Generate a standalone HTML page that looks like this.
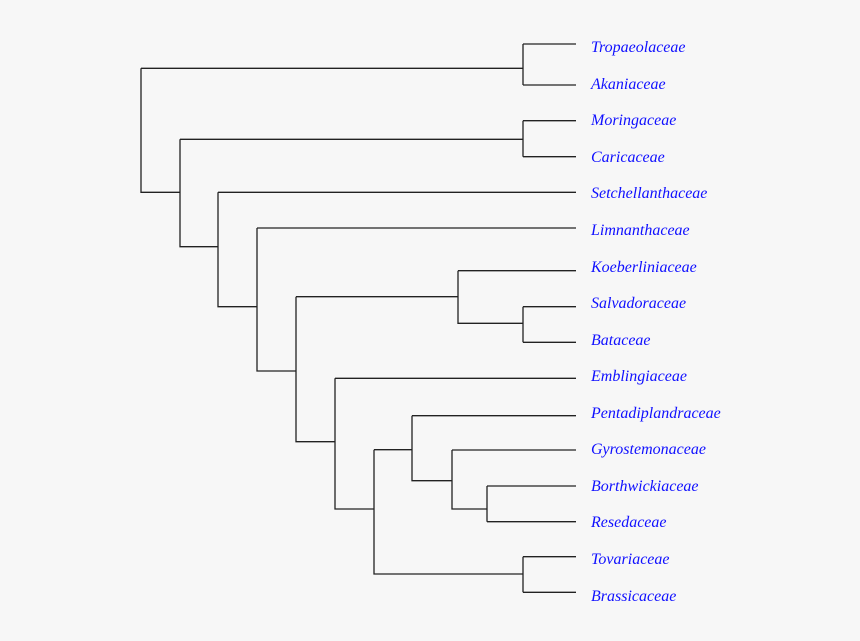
<!DOCTYPE html>
<html><head><style>
html,body{margin:0;padding:0;background:#f7f7f7;}
svg{display:block}
text{font-family:"Liberation Serif",serif;font-style:italic;font-size:16px;fill:#1010ff;}
</style></head><body>
<svg width="860" height="641" viewBox="0 0 860 641" xmlns="http://www.w3.org/2000/svg">
<rect width="860" height="641" fill="#f7f7f7"/>
<g stroke="#222" stroke-width="1.3" fill="none">
<path d="M141 68.3V192.3H180"/>
<path d="M141 68.3H523"/>
<path d="M523 44V85M523 44H576M523 85H576"/>
<path d="M180 139.3V246.7H218"/>
<path d="M180 139.3H523"/>
<path d="M523 120.7V156.7M523 120.7H576M523 156.7H576"/>
<path d="M218 192.3V306.7H257"/>
<path d="M218 192.3H576"/>
<path d="M257 228V371H296"/>
<path d="M257 228H576"/>
<path d="M296 296.7V441.7H335"/>
<path d="M296 296.7H458"/>
<path d="M458 270.7V323.3H523"/>
<path d="M458 270.7H576"/>
<path d="M523 306.7V342.3M523 306.7H576M523 342.3H576"/>
<path d="M335 378.3V509H374"/>
<path d="M335 378.3H576"/>
<path d="M374 449.7V574H523"/>
<path d="M374 449.7H412"/>
<path d="M412 415.7V480.7H452"/>
<path d="M412 415.7H576"/>
<path d="M452 450V509H487"/>
<path d="M452 450H576"/>
<path d="M487 486V521.7M487 486H576M487 521.7H576"/>
<path d="M523 556.7V592.3M523 556.7H576M523 592.3H576"/>
</g>
<g>
<text x="591" y="52">Tropaeolaceae</text>
<text x="591" y="89">Akaniaceae</text>
<text x="591" y="125">Moringaceae</text>
<text x="591" y="162">Caricaceae</text>
<text x="591" y="198">Setchellanthaceae</text>
<text x="591" y="235">Limnanthaceae</text>
<text x="591" y="272">Koeberliniaceae</text>
<text x="591" y="308">Salvadoraceae</text>
<text x="591" y="345">Bataceae</text>
<text x="591" y="381">Emblingiaceae</text>
<text x="591" y="418">Pentadiplandraceae</text>
<text x="591" y="454">Gyrostemonaceae</text>
<text x="591" y="491">Borthwickiaceae</text>
<text x="591" y="527">Resedaceae</text>
<text x="591" y="564">Tovariaceae</text>
<text x="591" y="601">Brassicaceae</text>
</g>
</svg>
</body></html>
